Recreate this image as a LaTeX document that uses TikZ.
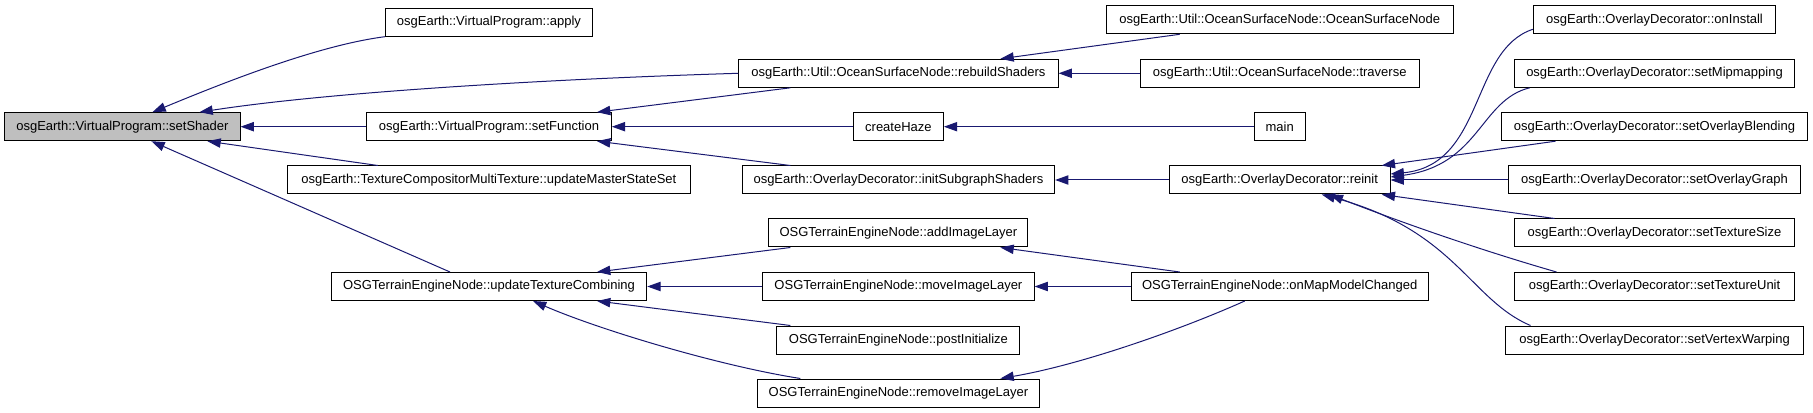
\documentclass[tikz,border=0pt]{standalone}
\usepackage{fontspec}
\setmainfont{Liberation Sans}
\usetikzlibrary{arrows.meta,calc}
\definecolor{callblue}{RGB}{25,25,112}
\definecolor{rootgrey}{RGB}{191,191,191}

\begin{document}
\begin{tikzpicture}[x=0.75pt,y=-0.75pt,
    fn/.style={draw=black,line width=0.75pt,fill=white,minimum height=21pt,inner sep=0pt,
               font=\fontsize{9.75}{11}\selectfont},
    call/.style={draw=callblue,line width=0.75pt,-{Triangle[length=10pt,width=7pt]}}]
    \useasboundingbox (0,0) rectangle (1813,413);

    % Callee
    \node[fn,fill=rootgrey,minimum width=176.5pt] (setShader) at (122.4,126.7) {osgEarth::VirtualProgram::setShader};

    % First callers
    \node[fn,minimum width=155.3pt] (apply) at (489,22.2) {osgEarth::VirtualProgram::apply};
    \node[fn,minimum width=183.5pt] (setFunction) at (489,126.7) {osgEarth::VirtualProgram::setFunction};
    \node[fn,minimum width=302.3pt] (masterState) at (488.8,180) {osgEarth::TextureCompositorMultiTexture::updateMasterStateSet};
    \node[fn,minimum width=236.6pt] (texCombining) at (489,286.5) {OSGTerrainEngineNode::updateTextureCombining};

    % Second callers
    \node[fn,minimum width=239.5pt] (rebuildShaders) at (898.4,73.3) {osgEarth::Util::OceanSurfaceNode::rebuildShaders};
    \node[fn,minimum width=67.5pt] (createHaze) at (898.4,126.7) {createHaze};
    \node[fn,minimum width=234.3pt] (initShaders) at (898.4,180) {osgEarth::OverlayDecorator::initSubgraphShaders};
    \node[fn,minimum width=194.3pt] (addLayer) at (898.4,233) {OSGTerrainEngineNode::addImageLayer};
    \node[fn,minimum width=203.5pt] (moveLayer) at (898.4,286.5) {OSGTerrainEngineNode::moveImageLayer};
    \node[fn,minimum width=182.3pt] (postInit) at (898.4,340) {OSGTerrainEngineNode::postInitialize};
    \node[fn,minimum width=211.5pt] (removeLayer) at (898.4,393) {OSGTerrainEngineNode::removeImageLayer};

    % Third callers
    \node[fn,minimum width=260.5pt] (oceanNode) at (1279.7,19.8) {osgEarth::Util::OceanSurfaceNode::OceanSurfaceNode};
    \node[fn,minimum width=209.3pt] (traverse) at (1279.7,73.3) {osgEarth::Util::OceanSurfaceNode::traverse};
    \node[fn,minimum width=38.3pt] (main) at (1279.7,126.7) {main};
    \node[fn,minimum width=165.5pt] (reinit) at (1279.7,180) {osgEarth::OverlayDecorator::reinit};
    \node[fn,minimum width=222.5pt] (mapChanged) at (1279.7,286.5) {OSGTerrainEngineNode::onMapModelChanged};

    % Fourth callers
    \node[fn,minimum width=181.8pt] (onInstall) at (1654.5,19.8) {osgEarth::OverlayDecorator::onInstall};
    \node[fn,minimum width=210.5pt] (mipmapping) at (1654.5,73.3) {osgEarth::OverlayDecorator::setMipmapping};
    \node[fn,minimum width=229.5pt] (blending) at (1654.5,126.7) {osgEarth::OverlayDecorator::setOverlayBlending};
    \node[fn,minimum width=218.5pt] (overlayGraph) at (1654.5,180) {osgEarth::OverlayDecorator::setOverlayGraph};
    \node[fn,minimum width=210.5pt] (texSize) at (1654.5,233) {osgEarth::OverlayDecorator::setTextureSize};
    \node[fn,minimum width=209.7pt] (texUnit) at (1654.5,286.5) {osgEarth::OverlayDecorator::setTextureUnit};
    \node[fn,minimum width=222.8pt] (vertexWarping) at (1654.5,340) {osgEarth::OverlayDecorator::setVertexWarping};

    % Calls into setShader
    \draw[call] (apply.south west) .. controls (320,45) and (230,80) .. ($(setShader.north)+(30,0)$);
    \draw[call] (rebuildShaders.west) .. controls (550,79) and (330,92) .. ($(setShader.north)+(77,0)$);
    \draw[call] (setFunction) -- (setShader);
    \draw[call] ($(masterState.north)+(-111,0)$) -- ($(setShader.south)+(85,0)$);
    \draw[call] ($(texCombining.north)+(-39,0)$) -- ($(setShader.south)+(29,0)$);

    % Calls into setFunction
    \draw[call] ($(rebuildShaders.south)+(-108,0)$) -- ($(setFunction.north)+(108,0)$);
    \draw[call] (createHaze) -- (setFunction);
    \draw[call] ($(initShaders.north)+(-108,0)$) -- ($(setFunction.south)+(108,0)$);

    % Calls into updateTextureCombining
    \draw[call] ($(addLayer.south)+(-108,0)$) -- ($(texCombining.north)+(108,0)$);
    \draw[call] (moveLayer) -- (texCombining);
    \draw[call] ($(postInit.north)+(-108,0)$) -- ($(texCombining.south)+(108,0)$);
    \draw[call] ($(removeLayer.north)+(-98,0)$) .. controls (720,366) and (600,330) .. ($(texCombining.south)+(44,0)$);

    % Calls into the second column
    \draw[call] ($(oceanNode.south)+(-100,0)$) -- ($(rebuildShaders.north)+(102,0)$);
    \draw[call] (traverse) -- (rebuildShaders);
    \draw[call] (main) -- (createHaze);
    \draw[call] (reinit) -- (initShaders);
    \draw[call] ($(mapChanged.north)+(-100,0)$) -- ($(addLayer.south)+(102,0)$);
    \draw[call] (mapChanged) -- (moveLayer);
    \draw[call] ($(mapChanged.south)+(-35,0)$) .. controls (1180,330) and (1080,365) .. ($(removeLayer.north)+(102,0)$);

    % Calls into reinit
    \draw[call] ($(onInstall.south west)+(0,-5)$) .. controls (1470,50) and (1485,165) .. ($(reinit.east)+(0,-6)$);
    \draw[call] ($(mipmapping.south west)+(16,0)$) .. controls (1480,100) and (1480,165) .. ($(reinit.east)+(0,-3)$);
    \draw[call] ($(blending.south)+(-99,0)$) -- ($(reinit.north)+(102,0)$);
    \draw[call] (overlayGraph) -- (reinit);
    \draw[call] ($(texSize.north)+(-100,0)$) -- ($(reinit.south)+(102,0)$);
    \draw[call] ($(texUnit.north)+(-98,0)$) .. controls (1480,250) and (1400,222) .. ($(reinit.south)+(50,0)$);
    \draw[call] ($(vertexWarping.north)+(-124,0)$) .. controls (1470,300) and (1455,230) .. ($(reinit.south)+(42,0)$);
\end{tikzpicture}
\end{document}
